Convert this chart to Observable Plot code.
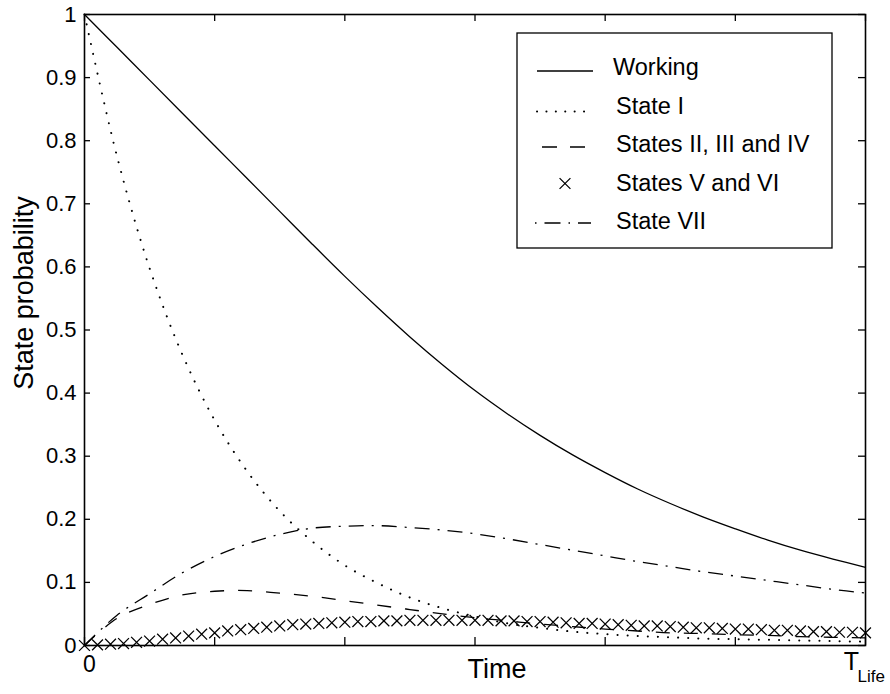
<!DOCTYPE html>
<html>
<head>
<meta charset="utf-8">
<script src="https://cdn.jsdelivr.net/npm/d3@7"></script>
<script src="https://cdn.jsdelivr.net/npm/@observablehq/plot@0.6"></script>
<style>
  html, body { margin: 0; padding: 0; background: #fff; }
  #chart { width: 890px; height: 694px; }
</style>
</head>
<body>
<div id="chart"></div>
<script>
// Time axis runs from 0 to T_Life, split into six equal intervals.
const timeGrid = [0, 0.25, 0.5, 0.75, 1, 1.25, 1.5, 1.75, 2, 2.25, 2.5, 2.75, 3,
                  3.25, 3.5, 3.75, 4, 4.25, 4.5, 4.75, 5, 5.25, 5.5, 5.75, 6];

const working = [1.0, 0.948, 0.896, 0.844, 0.792, 0.740, 0.688, 0.636, 0.585, 0.536, 0.489, 0.445, 0.404,
                 0.367, 0.333, 0.302, 0.274, 0.248, 0.225, 0.204, 0.185, 0.167, 0.151, 0.137, 0.124];

const stateI = [1.0, 0.775, 0.598, 0.462, 0.357, 0.276, 0.213, 0.165, 0.127, 0.099, 0.076, 0.059, 0.046,
                0.035, 0.028, 0.022, 0.018, 0.015, 0.013, 0.011, 0.010, 0.009, 0.008, 0.007, 0.006];

const statesIIToIV = [0, 0.043, 0.065, 0.080, 0.086, 0.087, 0.083, 0.078, 0.071, 0.064, 0.057, 0.050, 0.044,
                      0.039, 0.034, 0.030, 0.026, 0.023, 0.020, 0.019, 0.017, 0.016, 0.014, 0.013, 0.012];

const stateVII = [0, 0.048, 0.082, 0.115, 0.141, 0.161, 0.176, 0.186, 0.189, 0.190, 0.187, 0.183, 0.177,
                  0.169, 0.160, 0.151, 0.142, 0.133, 0.125, 0.117, 0.110, 0.103, 0.096, 0.089, 0.083];

// States V and VI are plotted as markers on a finer time step.
const markerTimes = [0, 0.1, 0.2, 0.3, 0.4, 0.5, 0.6, 0.7, 0.8, 0.9, 1, 1.1, 1.2, 1.3, 1.4, 1.5, 1.6, 1.7, 1.8, 1.9,
                     2, 2.1, 2.2, 2.3, 2.4, 2.5, 2.6, 2.7, 2.8, 2.9, 3, 3.1, 3.2, 3.3, 3.4, 3.5, 3.6, 3.7, 3.8, 3.9,
                     4, 4.1, 4.2, 4.3, 4.4, 4.5, 4.6, 4.7, 4.8, 4.9, 5, 5.1, 5.2, 5.3, 5.4, 5.5, 5.6, 5.7, 5.8, 5.9, 6];

const statesVAndVI = [0, 0.001, 0.002, 0.003, 0.005, 0.007, 0.010, 0.012, 0.015, 0.018,
                      0.020, 0.023, 0.025, 0.027, 0.029, 0.031, 0.033, 0.034, 0.035, 0.036,
                      0.037, 0.038, 0.038, 0.039, 0.039, 0.040, 0.040, 0.040, 0.040, 0.040,
                      0.040, 0.040, 0.039, 0.039, 0.038, 0.038, 0.037, 0.036, 0.035, 0.035,
                      0.034, 0.033, 0.032, 0.031, 0.031, 0.030, 0.029, 0.028, 0.028, 0.027,
                      0.026, 0.026, 0.025, 0.024, 0.024, 0.023, 0.022, 0.022, 0.021, 0.021, 0.020];

const seriesNames = ["Working", "State I", "States II, III and IV", "States V and VI", "State VII"];

const yTickValues = [0, 0.1, 0.2, 0.3, 0.4, 0.5, 0.6, 0.7, 0.8, 0.9, 1];
const xTickValues = [0, 1, 2, 3, 4, 5, 6];
const xStartLabel = "0";
const xEndLabel = "T";
const xEndSubscript = "Life";
const xTitle = "Time";
const yTitle = "State probability";

// Line styles, in legend order.
const styles = {
  solid:   {dash: null,       cap: "butt",  width: 1.3},
  dotted:  {dash: "0.1,10",   cap: "round", width: 2.0},
  dashed:  {dash: "14,14",    cap: "butt",  width: 1.3},
  dashDot: {dash: "15,8,2,8", cap: "butt",  width: 1.3}
};

const curveRows = timeGrid.map((t, i) => ({
  t, working: working[i], stateI: stateI[i], statesIIToIV: statesIIToIV[i], stateVII: stateVII[i]
}));
const markerRows = markerTimes.map((t, i) => ({t, p: statesVAndVI[i]}));

const W = 890, H = 694;
const mL = 84, mR = 25, mT = 14, mB = 49;
const plotW = W - mL - mR, plotH = H - mT - mB;
const FONT = "'Liberation Sans', Arial, Helvetica, sans-serif";

const lineMark = (key, st) => Plot.line(curveRows, {
  x: "t", y: key, curve: "catmull-rom", stroke: "black",
  strokeWidth: st.width, strokeDasharray: st.dash, strokeLinecap: st.cap
});

const chart = Plot.plot({
  width: W, height: H,
  marginLeft: mL, marginRight: mR, marginTop: mT, marginBottom: mB,
  x: {domain: [0, 6], axis: null},
  y: {domain: [0, 1], axis: null},
  style: {fontFamily: FONT, background: "#fff", color: "#000", overflow: "visible"},
  marks: [
    lineMark("working", styles.solid),
    lineMark("stateI", styles.dotted),
    lineMark("statesIIToIV", styles.dashed),
    lineMark("stateVII", styles.dashDot),
    Plot.dot(markerRows, {x: "t", y: "p", symbol: "times", r: 5, stroke: "black", strokeWidth: 1.25}),
    // inward ticks on all four sides of the box
    Plot.tickY(yTickValues, {y: d => d, stroke: "black", strokeWidth: 1.3, insetRight: plotW - 6}),
    Plot.tickY(yTickValues, {y: d => d, stroke: "black", strokeWidth: 1.3, insetLeft: plotW - 7}),
    Plot.tickX(xTickValues, {x: d => d, stroke: "black", strokeWidth: 1.3, insetTop: plotH - 8}),
    Plot.tickX(xTickValues, {x: d => d, stroke: "black", strokeWidth: 1.3, insetBottom: plotH - 7}),
    Plot.frame({stroke: "black", strokeWidth: 1.6}),
    Plot.axisY({
      ticks: yTickValues, tickSize: 0, tickPadding: 8, fontSize: 22, label: null,
      tickFormat: d => String(+d.toFixed(1))
    }),
    Plot.text([xTickValues[0]], {x: d => d, frameAnchor: "bottom", text: () => xStartLabel, textAnchor: "middle", dx: 5, dy: 26, fontSize: 23}),
    Plot.text([xTickValues[xTickValues.length - 1]], {x: d => d, frameAnchor: "bottom", text: () => xEndLabel, textAnchor: "middle", dx: -14, dy: 24, fontSize: 25}),
    Plot.text([xTickValues[xTickValues.length - 1]], {x: d => d, frameAnchor: "bottom", text: () => xEndSubscript, textAnchor: "start", dx: -8, dy: 36, fontSize: 17}),
    Plot.text([xTitle], {frameAnchor: "bottom", textAnchor: "middle", dx: 22, dy: 32, fontSize: 27}),
    Plot.text([yTitle], {frameAnchor: "left", textAnchor: "middle", dx: -60, dy: -37, rotate: -90, fontSize: 27})
  ]
});

// Legend box in the upper right of the axes.
const svg = d3.select(chart);
const lg = svg.append("g").attr("class", "legend").attr("font-family", FONT);
lg.append("rect")
  .attr("x", 517).attr("y", 33).attr("width", 315).attr("height", 215)
  .attr("fill", "#fff").attr("stroke", "black").attr("stroke-width", 1.3);

const rowY = i => 67 + 38.5 * i;
const legendSamples = [
  {kind: "line", st: styles.solid, x1: 537, x2: 593, off: 4},
  {kind: "line", st: styles.dotted, x1: 537, x2: 593, off: 6, dash: "0.1,9.3"},
  {kind: "line", st: styles.dashed, x1: 542, x2: 585, off: 3, dash: "15,13"},
  {kind: "marker"},
  {kind: "line", st: styles.dashDot, x1: 535, x2: 591, off: 2, dash: "1.5,8,16,8"}
];

seriesNames.forEach((name, i) => {
  const s = legendSamples[i];
  const y = rowY(i);
  if (s.kind === "line") {
    lg.append("line")
      .attr("x1", s.x1).attr("x2", s.x2).attr("y1", y + s.off).attr("y2", y + s.off)
      .attr("stroke", "black").attr("stroke-width", s.st.width)
      .attr("stroke-linecap", s.st.cap)
      .attr("stroke-dasharray", s.dash || s.st.dash);
  } else {
    lg.append("path")
      .attr("transform", `translate(565,${y + 1})`)
      .attr("d", d3.symbol(d3.symbolTimes, 25 * Math.PI)())
      .attr("fill", "none").attr("stroke", "black").attr("stroke-width", 1.25);
  }
  lg.append("text")
    .attr("x", i === 0 ? 613 : 616).attr("y", y)
    .attr("text-anchor", "start")
    .attr("dominant-baseline", "central")
    .attr("font-size", 23.5).attr("fill", "black")
    .text(name);
});

document.getElementById("chart").appendChild(chart);
</script>
</body>
</html>
